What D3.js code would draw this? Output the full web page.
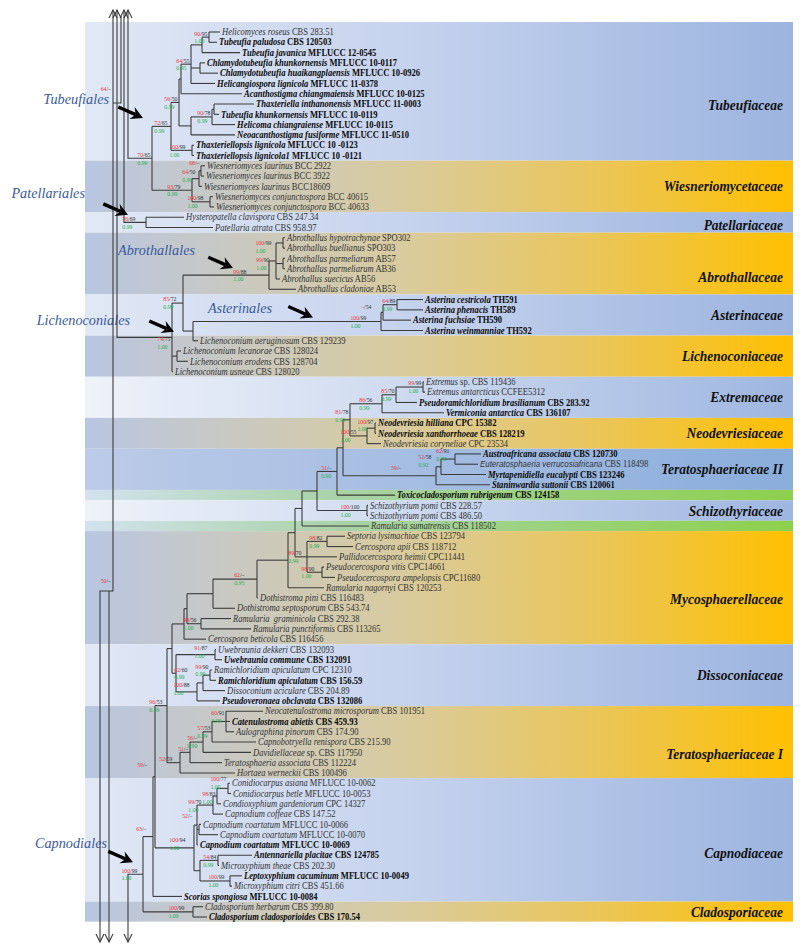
<!DOCTYPE html>
<html><head><meta charset="utf-8">
<script src="https://cdn.jsdelivr.net/npm/d3@7"></script>
<style>body{margin:0;background:#fff}svg{display:block}</style>
</head><body>
<script>
// ---------------- DATA ----------------
const taxonNames = [
"Helicomyces roseus","Tubeufia paludosa","Tubeufia javanica","Chlamydotubeufia khunkornensis","Chlamydotubeufia huaikangplaensis","Helicangiospora lignicola","Acanthostigma chiangmaiensis","Thaxteriella inthanonensis","Tubeufia khunkornensis","Helicoma chiangraiense","Neoacanthostigma fusiforme","Thaxteriellopsis lignicola","Thaxteriellopsis lignicola1",
"Wiesneriomyces laurinus","Wiesneriomyces laurinus","Wiesneriomyces laurinus","Wiesneriomyces conjunctospora","Wiesneriomyces conjunctospora",
"Hysteropatella clavispora","Patellaria atrata",
"Abrothallus hypotrachynae","Abrothallus buellianus","Abrothallus parmeliarum","Abrothallus parmeliarum","Abrothallus suecicus","Abrothallus cladoniae",
"Asterina cestricola","Asterina phenacis","Asterina fuchsiae","Asterina weinmanniae",
"Lichenoconium aeruginosum","Lichenoconium lecanorae","Lichenoconium erodens","Lichenoconium usneae",
"Extremus","Extremus antarcticus","Pseudoramichloridium brasilianum","Vermiconia antarctica",
"Neodevriesia hilliana","Neodevriesia xanthorrhoeae","Neodevriesia coryneliae",
"Austroafricana associata","Euteratosphaeria verrucosiafricana","Myrtapenidiella eucalypti","Staninwardia suttonii",
"Toxicocladosporium rubrigenum",
"Schizothyrium pomi","Schizothyrium pomi",
"Ramularia sumatrensis",
"Septoria lysimachiae","Cercospora apii","Pallidocercospora heimii","Pseudocercospora vitis","Pseudocercospora ampelopsis","Ramularia nagornyi","Dothistroma pini","Dothistroma septosporum","Ramularia  graminicola","Ramularia punctiformis","Cercospora beticola",
"Uwebraunia dekkeri","Uwebraunia commune","Ramichloridium apiculatum","Ramichloridium apiculatum","Dissoconium aciculare","Pseudoveronaea obclavata",
"Neocatenulostroma microsporum","Catenulostroma abietis","Aulographina pinorum","Capnobotryella renispora","Davidiellaceae","Teratosphaeria associata","Hortaea werneckii",
"Conidiocarpus asiana","Conidiocarpus betle","Condioxyphium gardeniorum","Capnodium coffeae","Capnodium coartatum","Capnodium coartatum","Capnodium coartatum","Antennariella placitae","Microxyphium theae","Leptoxyphium cacuminum","Microxyphium citri","Scorias spongiosa",
"Cladosporium herbarum","Cladosporium cladosporioides"];

const taxonStrains = [
"CBS 283.51","CBS 120503","MFLUCC 12-0545","MFLUCC 10-0117","MFLUCC 10-0926","MFLUCC 11-0378","MFLUCC 10-0125","MFLUCC 11-0003","MFLUCC 10-0119","MFLUCC 10-0115","MFLUCC 11-0510","MFLUCC 10 -0123","MFLUCC 10 -0121",
"BCC 2922","BCC 3922","BCC18609","BCC 40615","BCC 40633",
"CBS 247.34","CBS 958.97",
"SPO302","SPO303","AB57","AB36","AB56","AB53",
"TH591","TH589","TH590","TH592",
"CBS 129239","CBS 128024","CBS 128704","CBS 128020",
"sp. CBS 119436","CCFEE5312","CBS 283.92","CBS 136107",
"CPC 15382","CBS 128219","CPC 23534",
"CBS 120730","CBS 118498","CBS 123246","CBS 120061",
"CBS 124158",
"CBS 228.57","CBS 486.50",
"CBS 118502",
"CBS 123794","CBS 118712","CPC11441","CPC14661","CPC11680","CBS 120253","CBS 116483","CBS 543.74","CBS 292.38","CBS 113265","CBS 116456",
"CBS 132093","CBS 132091","CPC 12310","CBS 156.59","CBS 204.89","CBS 132086",
"CBS 101951","CBS 459.93","CBS 174.90","CBS 215.90","sp. CBS 117950","CBS 112224","CBS 100496",
"MFLUCC 10-0062","MFLUCC 10-0053","CPC 14327","CBS 147.52","MFLUCC 10-0066","MFLUCC 10-0070","MFLUCC 10-0069","CBS 124785","CBS 202.30","MFLUCC 10-0049","CBS 451.66","MFLUCC 10-0084",
"CBS 399.80","CBS 170.54"];

const boldTaxa = [1,2,3,4,5,6,7,8,9,10,11,12,26,27,28,29,36,37,38,39,41,43,44,45,61,63,65,67,79,80,82,84,86];
const sansTaxa = [42];

const taxonParent = [
"Trp","Trp","Trpj","Tch","Tch","T64","Tac","Tik","Tik","Tth3","Tthx","Ttl","Ttl",
"W68","W68","W64","Wc","Wc",
"P76","P76",
"Ahb","Ahb","App","App","A3","A99",
"S1","S1","S2","S3",
"Last","Lle","Lle","L74",
"E99","E99","E85","E86",
"N100","N100","N55",
"T262","T262","T252","T259",
"X51",
"Sch","Sch",
"X302",
"Msc","Msc","M89","Mps","Mps","M288","M62","M213","Mgram","Mgram","M184",
"Duwe","Duwe","Drami","Drami","Drd","Drdp",
"T160","T160","T160","T157","T156","T151","T152",
"Cca","Cca","C98","C99","Cco","Cco","C52","Can","Can","Clc","Clc","X2",
"Cl","Cl"];

const taxonBranch = [
0.011,0.008,0.038,0.005,0.018,0.024,0.061,0.040,0.005,0.023,0.044,0.002,0.002,
0.004,0.003,0.003,0.003,0.004,
0.038,0.067,
0.002,0.002,0.002,0.002,0.004,0.027,
0.026,0.026,0.028,0.042,
0.005,0.004,0.011,0.001,
0.001,0.002,0.021,0.062,
0.001,0.001,0.014,
0.026,0.023,0.045,0.054,
0.058,
0.001,0.001,
0.067,
0.018,0.026,0.030,0.002,0.013,0.036,0.001,0.022,0.030,0.050,0.022,
0.001,0.007,0.002,0.006,0.022,0.023,
0.037,0.004,0.008,0.044,0.048,0.032,0.055,
0.002,0.003,0.004,0.010,0.002,0.019,0.001,0.034,0.001,0.012,0.002,0.029,
0.010,0.014];

const nodeId     = ["root","TW70","T72","T56","Tac","T64","Trpj","Trp","Tch","Tthx","Tth3","Tik","Ttl","W93","W64","W68","Wc",
"P76","L74","L85","A99","A3","Ahb","App","Last","S3","S2","S1","Lle",
"Cap","X2","X1","C96","MD","M184","M187","M213","M62","M288","M295","X302","X317","X51","ENT","EN81","E86","E85","E99","N55","N100","T259","T252","T262","Sch","M89","Msc","Mps","Mgram",
"Dall","Duwe","Drdp","Drd","Drami","T152","T151","T156","T157","T160","C100","C52","C99","C98","Cca","Cco","Clm","Can","Clc","Cl"];
const nodeParent = [null,"root","TW70","T72","T56","Tac","T64","Trpj","T64","T56","Tthx","Tth3","T72","TW70","W93","W64","W93",
"root","root","L74","L85","A99","A3","A3","L85","Last","S3","S2","L74",
"root","Cap","X2","X1","C96","MD","M184","M187","M213","M62","M288","M295","X302","X317","X51","ENT","EN81","E86","E85","EN81","N55","ENT","T259","T252","X317","M295","M89","M89","M187",
"MD","Dall","Dall","Drdp","Drd","C96","T152","T151","T156","T157","X1","C100","C52","C99","C98","C52","C100","Clm","Clm","Cap"];
const nodeBranch = [0,0.052,0.019,0.008,0.002,0.010,0.011,0.007,0.009,0.012,0.021,0.002,0.021,0.040,0.007,0.002,0.018,
0.046,0.072,0.011,0.086,0.007,0.007,0.007,0.010,0.188,0.002,0.014,0.005,
0.043,0.010,0.002,0.012,0.005,0.012,0.003,0.026,0.044,0.031,0.007,0.007,0.015,0.020,0.006,0.007,0.032,0.014,0.027,0.017,0.008,0.093,0.005,0.014,0.050,0.012,0.020,0.015,0.014,
0.004,0.039,0.021,0.006,0.007,0.013,0.010,0.013,0.009,0.014,0.039,0.003,0.016,0.004,0.011,0.002,0.006,0.018,0.030,0.050];
const nodeML = ["","70/65","72/65","56/50","","64/55","","90/95","","","90/78","","100/99","93/79","64/50","68/–","100/98",
"76/69","74/75","85/72","99/88","","100/99","99/90","","100/99","–/54","64/89","",
"100/99","63/–","59/–","96/53","","","","","62/–","","","","","51/–","","81/78","86/56","85/70","99/99","100/55","100/97","59/–","52/58","62/91","100/100","89/70","98/82","98/90","98/56",
"62/60","91/87","100/88","","99/90","52/59","51/–","56/–","57/53","60/91","100/94","52/–","99/70","98/83","100/77","","","54/84","100/99","100/99"];
const nodePP = ["","0.99","0.99","0.99","","0.95","","1.00","","","0.99","","1.00","0.99","0.99","","1.00",
"0.99","1.00","0.99","1.00","","1.00","1.00","","1.00","","0.99","",
"1.00","","","0.99","","","","","0.95","","","","","0.90","","0.99","0.99","0.99","1.00","1.00","1.00","","0.92","0.95","1.00","0.99","0.99","1.00","1.00",
"0.99","1.00","1.00","","0.99","","","0.90","0.99","0.99","1.00","","1.00","1.00","1.00","","","0.99","1.00","1.00"];

// truncated long stems leading out of the frame
const stemClade  = ["TW70","P76","L74","Cap"];
const stemBase   = [0.028,0.024,0.017,0.028];
const stemToward = ["top","top","top","bottom"];

const familyNames = ["Tubeufiaceae","Wiesneriomycetaceae","Patellariaceae","Abrothallaceae","Asterinaceae","Lichenoconiaceae","Extremaceae","Neodevriesiaceae","Teratosphaeriaceae II","","Schizothyriaceae","","Mycosphaerellaceae","Dissoconiaceae","Teratosphaeriaceae I","Capnodiaceae","Cladosporiaceae"];
const familyFirst = [0,13,18,20,26,30,34,38,41,45,46,48,49,60,66,73,85];
const familyLast  = [12,17,19,25,29,33,37,40,44,45,47,48,59,65,72,84,86];
const familyTone  = ["blue","orange","blue","orange","blue","orange","blueLight","orange","blue2","green","blueLight","green","orange","blue","orange","blue","orange"];

const orderNames = ["Tubeufiales","Patellariales","Abrothallales","Asterinales","Lichenoconiales","Capnodiales"];

// ---------------- LAYOUT ----------------
const W = 800, H = 951;
const x = d3.scaleLinear().domain([0, 0.7]).range([100, 800]);
const y = d3.scaleLinear().domain([0, taxonNames.length - 1]).range([32, 917]);
const rowH = y(1) - y(0);
const serif = "'Liberation Serif','Times New Roman',serif";

const svg = d3.select("body").append("svg").attr("width", W).attr("height", H);
const defs = svg.append("defs");
const bandX0 = 85, bandX1 = 793;
const tones = {
  blue:      [[0,"#e1e8f5"],[0.45,"#c6d3ee"],[1,"#9cb4df"]],
  blueLight: [[0,"#eef2f9"],[0.35,"#d6e0f2"],[1,"#9eb6e0"]],
  blue2:     [[0,"#bccbe8"],[1,"#8aaddb"]],
  orange:    [[0,"#b8c6e1"],[0.12,"#c3c8cf"],[0.45,"#d9cb9e"],[0.75,"#ecc552"],[1,"#ffc000"]],
  green:     [[0,"#d3e2ee"],[0.35,"#a9d3a8"],[1,"#8dd04c"]]
};
Object.entries(tones).forEach(([k, stops]) => {
  const g = defs.append("linearGradient").attr("id","g-"+k)
    .attr("gradientUnits","userSpaceOnUse").attr("x1",bandX0).attr("x2",bandX1).attr("y1",0).attr("y2",0);
  stops.forEach(s => g.append("stop").attr("offset",s[0]).attr("stop-color",s[1]));
});

// hierarchy
const rows = [];
nodeId.forEach((id,i) => rows.push({id, parent: nodeParent[i], len: nodeBranch[i], ml: nodeML[i], pp: nodePP[i]}));
taxonNames.forEach((n,i) => rows.push({id: "t"+i, parent: taxonParent[i], len: taxonBranch[i], leaf: i}));
const root = d3.stratify().id(d => d.id).parentId(d => d.parent)(rows);
root.eachAfter(n => { n.minLeaf = n.children ? d3.min(n.children, c => c.minLeaf) : n.data.leaf; });
root.sort((a,b) => a.minLeaf - b.minLeaf);
root.eachBefore(n => { n.dist = n.parent ? n.parent.dist + n.data.len : 0; });
root.eachAfter(n => {
  if (n.children) n.y = (n.children[0].y + n.children[n.children.length-1].y) / 2;
  else n.y = y(n.data.leaf);
});
const byId = new Map(root.descendants().map(d => [d.id, d]));
const bold = new Set(boldTaxa), sans = new Set(sansTaxa);

// ---------------- BANDS ----------------
const bands = svg.append("g");
familyNames.forEach((name,i) => {
  const top = i === 0 ? y(familyFirst[i]) - rowH*0.97 : y(familyFirst[i]) - rowH/2;
  const bottom = i === familyNames.length-1 ? y(familyLast[i]) + rowH*0.45 : y(familyLast[i]) + rowH/2;
  bands.append("rect").attr("x",bandX0).attr("y",top).attr("width",bandX1-bandX0).attr("height",bottom-top)
    .attr("fill","url(#g-"+familyTone[i]+")");
});
const labelRowOverride = {"Tubeufiaceae":7.1,"Abrothallaceae":23.8,"Mycosphaerellaceae":55.1,"Teratosphaeriaceae I":70.2,"Capnodiaceae":79.8,"Patellariaceae":18.75};
familyNames.forEach((name,i) => {
  if (!name) return;
  const cy = labelRowOverride[name] !== undefined ? y(labelRowOverride[name]) : (y(familyFirst[i]) + y(familyLast[i]))/2;
  bands.append("text").attr("transform",`translate(783,${cy+5}) scale(0.9,1)`)
    .attr("text-anchor","end").attr("font-family",serif).attr("font-size",15)
    .attr("font-weight","bold").attr("font-style","italic").attr("fill","#111").text(name);
});

// ---------------- ORDER LABELS ----------------
const orderPos = [[109,104],[85,198],[195,255],[272,313],[130,325],[107,848]];
orderNames.forEach((n,i) => {
  svg.append("text").attr("transform",`translate(${orderPos[i][0]},${orderPos[i][1]}) scale(0.92,1)`)
    .attr("text-anchor","end").attr("font-family",serif).attr("font-style","italic")
    .attr("font-size",15.5).attr("fill","#3a5a9b").text(n);
});

// ---------------- BRANCHES ----------------
const lineCol = "#3c3c3c";
const br = svg.append("g").attr("stroke",lineCol).attr("stroke-width",1.1).attr("fill","none");
root.descendants().forEach(n => {
  if (n.parent && n.parent !== root) {
    br.append("path").attr("d",`M${x(n.parent.dist)},${n.y}H${x(n.dist)}`);
  }
  if (n.children && n !== root) {
    br.append("path").attr("d",`M${x(n.dist)},${n.children[0].y}V${n.children[n.children.length-1].y}`);
  }
});
const topY = 10, botY = 942;
function chevron(px, tipY, dir) {
  const h = 8*dir;
  br.append("path").attr("d",`M${px-4},${tipY+h}L${px},${tipY}L${px+4},${tipY+h}`);
}
stemClade.forEach((c,i) => {
  const n = byId.get(c), sx = x(stemBase[i]);
  br.append("path").attr("d",`M${x(n.dist)},${n.y}H${sx}V${stemToward[i]==="top"?topY:botY}`);
  if (stemToward[i]==="top") chevron(sx, topY, 1); else chevron(sx, botY, -1);
});
const bbX = x(0.013), bbJoinY = 591;
br.append("path").attr("d",`M${bbX},${topY}V${bbJoinY}H${x(0)}V${botY}`);
br.append("path").attr("d",`M${x(0.009)},${bbJoinY}V${botY}`);
br.append("path").attr("d",`M${bbX},103H${x(0.021)}V${topY+6}`);
chevron(bbX, topY, 1);
chevron(x(0), botY, -1);
chevron(x(0.009), botY, -1);

// ---------------- LEAF LABELS ----------------
const leaves = root.leaves();
const lg = svg.append("g");
leaves.forEach(d => {
  const i = d.data.leaf;
  const t = lg.append("text").attr("transform",`translate(${x(d.dist)+2},${d.y+3.2}) scale(0.92,1)`)
    .attr("font-family", sans.has(i) ? "'Liberation Sans',Arial,sans-serif" : serif)
    .attr("font-size", sans.has(i) ? 8.6 : 9.3)
    .attr("font-weight", bold.has(i) ? "bold" : "normal")
    .attr("fill", bold.has(i) ? "#0a0a0a" : "#333")
    .attr("xml:space","preserve");
  t.append("tspan").attr("font-style","italic").text(taxonNames[i]);
  t.append("tspan").attr("font-family",serif).attr("font-size",9.3).text(" " + taxonStrains[i]);
});

// ---------------- SUPPORT LABELS ----------------
const labelNudge = {Ttl:[-5,0],T72:[-2,0],W68:[0,-4],W64:[-2,-3],W93:[-10,0],Wc:[-5,0],P76:[-9,0],
  Ahb:[-10,4],App:[-12,0],A99:[-21,0],S2:[-10,-2],S3:[-13,0],L85:[-5,0],L74:[0,5],
  E86:[-8,0],EN81:[0,-4],N100:[0,-3],N55:[-9,0],T262:[-4,-4],T252:[-8,-6],T259:[-33,-4],X51:[-4,0],
  Sch:[-6,0],Msc:[-3,0],M89:[-4,0],Mps:[-6,0],M62:[-11,0],Mgram:[-3,0],Duwe:[-6,-3],Drami:[0,-5],
  Dall:[13,0],Drdp:[-6,-3],T160:[0,-5],T156:[-4,0],T152:[-6,0],C96:[-3,0],Cca:[0,-6],C98:[0,1.5],C99:[-10,1],
  C52:[-3,-5],Clc:[-4,0],C100:[-7,-4],X1:[-6,-8],X2:[-5,-4],Cl:[-7,0],Cap:[-4,0]};
const sg = svg.append("g").attr("font-family",serif).attr("font-size",5.8);
function support(ml, pp, xr, yy) {
  const parts = ml.split("/");
  const t = sg.append("text").attr("x",xr).attr("y",yy-1.6).attr("text-anchor","end");
  t.append("tspan").attr("fill","#f0303a").text(parts[0]);
  t.append("tspan").attr("fill","#333").text("/" + parts[1]);
  if (pp) {
    const w = t.node().getComputedTextLength();
    sg.append("text").attr("x",xr - w).attr("y",yy+6.2).attr("fill","#1fae4a").text(pp);
  }
}
root.descendants().forEach(n => {
  if (n.children && n.data.ml) {
    const nd = labelNudge[n.id] || [0,0];
    support(n.data.ml, n.data.pp, x(n.dist) - 1.5 + nd[0], n.y + nd[1]);
  }
});
support("64/–", "", 111, 93);
support("50/–", "", 111, 585);

// ---------------- POINTER ARROWS ----------------
const arrowAt = [["T72",-28,-8.5],["P76",-18,-7.6],["A99",-36,-7],["S3",-68,-4],["L74",2,-5.5],["Cap",-10,-12]];
const ag = svg.append("g");
arrowAt.forEach(([id,dx,dy]) => {
  const n = byId.get(id);
  const tx = x(n.dist)+dx, ty = n.y+dy;
  const ang = Math.atan2(11,25);
  const ux = Math.cos(ang), uy = Math.sin(ang), px = -uy, py = ux;
  const L = 27, hl = 10, hw = 6.5;
  const bx = tx - ux*hl, by = ty - uy*hl;
  ag.append("path").attr("d",`M${tx-ux*L},${ty-uy*L}L${bx+ux*2},${by+uy*2}`)
    .attr("stroke","#000").attr("stroke-width",3.4).attr("fill","none");
  ag.append("path").attr("d",`M${tx},${ty}L${bx+px*hw-ux*2},${by+py*hw-uy*2}L${bx+ux*2},${by+uy*2}L${bx-px*hw-ux*2},${by-py*hw-uy*2}Z`)
    .attr("fill","#000");
});
</script>
</body></html>
